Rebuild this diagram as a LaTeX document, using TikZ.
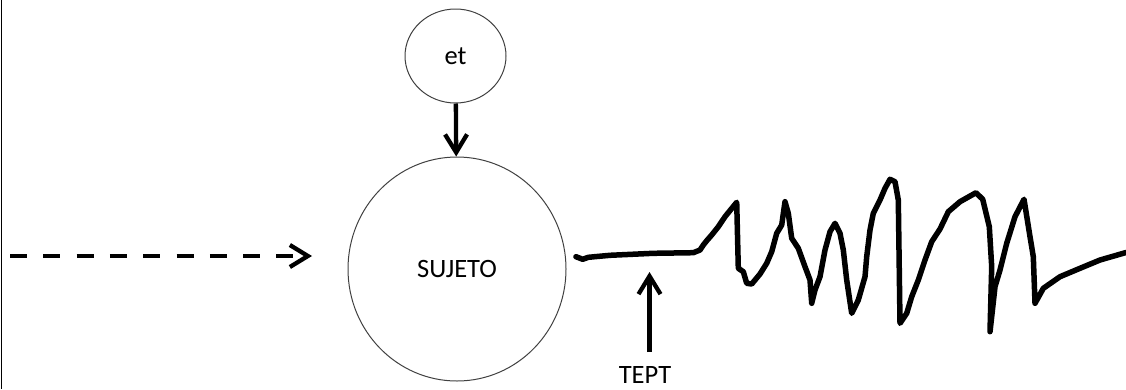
\documentclass[tikz,border=0pt]{standalone}
\usepackage{fontspec}
\setmainfont{Carlito}
\usetikzlibrary{arrows.meta,shapes.geometric}
\tikzset{
  circ/.style={ellipse, draw=black!75, line width=1pt, inner sep=0pt, font=\fontsize{26.5}{30}\selectfont},
  arr/.style={-{Straight Barb[length=18pt,width=22pt]}, line width=4.3pt},
  dasharr/.style={arr, dash pattern=on 17pt off 16.3pt},
  wave/.style={line width=5.5pt, line join=round, line cap=round},
  lbl/.style={inner sep=0pt, font=\fontsize{26.5}{30}\selectfont},
}
\begin{document}
\begin{tikzpicture}[x=1pt,y=-1pt]
\useasboundingbox (0,0) rectangle (1126,389);
\draw[line width=1.5pt] (1.5,0) -- (1.5,389);
\node[circ, minimum width=101pt, minimum height=94pt] (et) at (455.5,56) {et};
\node[circ, minimum width=218pt, minimum height=224pt] (suj) at (457,269) {\raisebox{-2.5pt}{SUJETO}};
\draw[arr] (et) -- (suj);
\coordinate (dstart) at (10,256);
\coordinate (dend) at (312,256);
\draw[dasharr] (dstart) -- (dend);
\node[lbl] (tept) at (645,374.5) {TEPT};
\coordinate (teptBase) at (649.5,352);
\coordinate (teptTip) at (649.5,272);
\draw[arr] (teptBase) -- (teptTip);
\draw[wave] (576,256.7) -- (582.7,259.3) -- (588.3,257.3) -- (610,255.3) -- (653.3,253.3) -- (693.3,252.7) -- (700,250) -- (703.3,245) -- (706.7,240.7) -- (711.7,235) -- (718.3,226.7) -- (725,216.7) -- (736.7,202.3) -- (738.3,268.3) -- (743.3,271.7) -- (746.7,283.3) -- (751.7,284) -- (760,274) -- (766.7,263.3) -- (771.7,251.7) -- (776.7,233.3) -- (781.7,225) -- (785,201.7) -- (788.3,213.3) -- (791.7,238.3) -- (798.3,248.3) -- (805,266.7) -- (810,280) -- (811.7,303.3) -- (815,290) -- (820,276.7) -- (825,250) -- (830,231.7) -- (835,223.3) -- (840,233.3) -- (843.3,250) -- (846.7,280) -- (851.7,313.3) -- (858.3,300) -- (865,276.7) -- (866.7,256.7) -- (870,230) -- (873.3,213.3) -- (880,200) -- (885,188.3) -- (890,179.3) -- (895,181.7) -- (898.3,200) -- (900,323.3) -- (906.7,313.3) -- (911.7,296.7) -- (918.3,280) -- (925,260) -- (931.7,241.7) -- (940,229) -- (948.3,211.7) -- (960,201.7) -- (976,192.7) -- (982.7,199.3) -- (989.3,226.7) -- (991.7,266.7) -- (990,331.7) -- (995,286.7) -- (1000,270) -- (1006.7,243.3) -- (1015,216.7) -- (1024,199.3) -- (1030,236.7) -- (1033.3,256.7) -- (1035,303.3) -- (1043.3,288.3) -- (1060,276.7) -- (1080,268.3) -- (1100,260) -- (1126,252.5);
\end{tikzpicture}
\end{document}
